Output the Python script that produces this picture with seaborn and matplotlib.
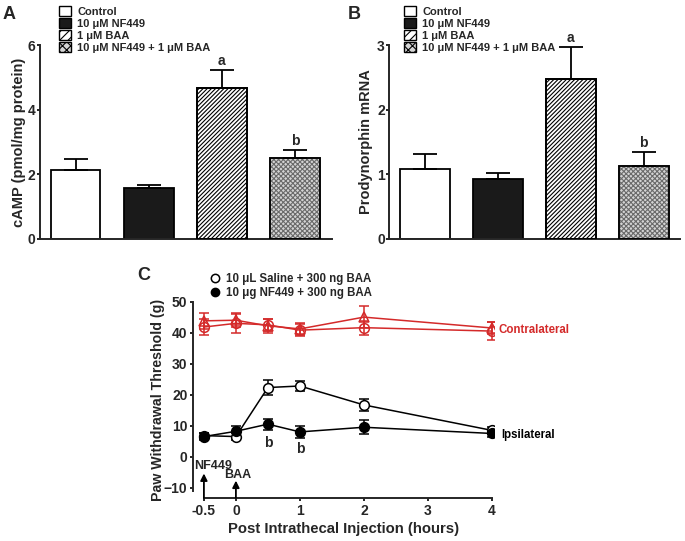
import matplotlib
matplotlib.use("Agg")
import matplotlib.pyplot as plt
import seaborn as sns
import pandas as pd
from matplotlib.patches import Patch
from matplotlib.lines import Line2D

# bar panels
groups = ["Control", "10 μM NF449", "1 μM BAA", "10 μM NF449 + 1 μM BAA"]
camp_mean = [2.13, 1.56, 4.67, 2.51]
camp_err = [0.33, 0.12, 0.57, 0.24]
camp_marks = ["", "", "a", "b"]
dyn_mean = [1.08, 0.92, 2.48, 1.12]
dyn_err = [0.24, 0.10, 0.50, 0.22]
dyn_marks = ["", "", "a", "b"]

# time course panel
hours = [-0.5, 0, 0.5, 1, 2, 4]
ipsi_saline = [6.8, 6.5, 22.3, 22.8, 16.7, 8.5]
ipsi_saline_err = [1.0, 1.2, 2.3, 1.5, 2.0, 1.0]
ipsi_nf449 = [6.5, 8.2, 10.5, 8.0, 9.5, 7.5]
ipsi_nf449_err = [1.2, 1.8, 1.8, 2.0, 2.3, 1.2]
contra_circ = [41.8, 43.0, 42.5, 40.8, 41.6, 40.5]
contra_circ_err = [2.5, 3.0, 2.0, 2.0, 2.3, 2.8]
contra_tri = [43.8, 44.0, 42.2, 41.2, 45.0, 41.5]
contra_tri_err = [2.5, 2.3, 2.3, 2.0, 3.5, 2.0]

sns.set_style("ticks")
plt.rcParams["font.family"] = ["Liberation Sans", "DejaVu Sans"]
plt.rcParams["font.weight"] = "bold"
plt.rcParams["axes.labelweight"] = "bold"
plt.rcParams["axes.linewidth"] = 1.4
plt.rcParams["xtick.major.width"] = 1.4
plt.rcParams["ytick.major.width"] = 1.4
plt.rcParams["hatch.linewidth"] = 0.8

fig = plt.figure(figsize=(6.85, 5.41), dpi=100)

faces = ["white", "#1a1a1a", "white", "#d4d4d4"]
hatches = [None, None, "////////", "xxxxxxx"]
hatch_edges = ["black", "black", "black", "#6a6a6a"]


def bar_panel(rect, means, errs, marks, ymax, yticks, ylabel, label_x, letter, letter_xy, leg_xy):
    ax = fig.add_axes(rect)
    df = pd.DataFrame({"group": groups, "value": means})
    sns.barplot(data=df, x="group", y="value", hue="group", order=groups,
                hue_order=groups, palette=faces, width=0.68, legend=False, ax=ax)
    for p, fc, h, he in zip(ax.patches, faces, hatches, hatch_edges):
        p.set_facecolor(fc)
        p.set_edgecolor(he)
        p.set_linewidth(1.3)
        if h:
            p.set_hatch(h)
            # outline drawn separately so hatch color can differ
            ax.add_patch(plt.Rectangle(p.get_xy(), p.get_width(), p.get_height(),
                                       fill=False, edgecolor="black", lw=1.3, zorder=3))
    ax.errorbar(range(4), means, yerr=[[0] * 4, errs], fmt="none", ecolor="black",
                elinewidth=1.3, capsize=8.5, capthick=1.3, zorder=4)
    for i, (m, e, t) in enumerate(zip(means, errs, marks)):
        if t:
            ax.text(i, m + e + ymax * 0.01, t, ha="center", va="bottom", fontsize=10)
    ax.set_xlim(-0.49, 3.5)
    ax.set_ylim(0, ymax)
    ax.set_yticks(yticks)
    ax.set_xticks([])
    ax.set_xlabel("")
    ax.set_ylabel(ylabel, fontsize=10.5)
    ax.yaxis.set_label_coords(label_x, 0.5)
    ax.tick_params(axis="y", labelsize=10, length=2, pad=1)
    sns.despine(ax=ax)
    fig.text(letter_xy[0], letter_xy[1], letter, fontsize=13, fontweight="bold",
             va="top", ha="left")
    handles = [Patch(facecolor=fc, edgecolor="black", hatch=(h[:4] if h else None), lw=1)
               for fc, h in zip(faces, hatches)]
    ax.legend(handles=handles, labels=groups, loc="upper left", bbox_to_anchor=leg_xy,
              bbox_transform=fig.transFigure, frameon=False, fontsize=8,
              handlelength=1.05, handleheight=1.0, handletextpad=0.6,
              labelspacing=0.1, borderaxespad=0, borderpad=0)
    return ax


bar_panel([0.058, 0.559, 0.426, 0.357], camp_mean, camp_err, camp_marks, 6, [0, 2, 4, 6],
          "cAMP (pmol/mg protein)", -0.048, "A", (0.004, 0.988), (0.086, 0.988))
bar_panel([0.568, 0.559, 0.425, 0.357], dyn_mean, dyn_err, dyn_marks, 3, [0, 1, 2, 3],
          "Prodynorphin mRNA", -0.055, "B", (0.508, 0.988), (0.590, 0.988))

# panel C
axc = fig.add_axes([0.2818, 0.0795, 0.439, 0.363])
red = "#d42a2a"
series = [
    (contra_circ, contra_circ_err, red, "o", "none"),
    (contra_tri, contra_tri_err, red, "^", "none"),
    (ipsi_saline, ipsi_saline_err, "black", "o", "white"),
    (ipsi_nf449, ipsi_nf449_err, "black", "o", "black"),
]
for vals, errs, col, mk, mfc in series:
    df = pd.DataFrame({"h": hours, "v": vals})
    sns.lineplot(data=df, x="h", y="v", color=col, lw=1.1, marker=mk, markersize=7,
                 markerfacecolor=mfc, markeredgecolor=col, markeredgewidth=1.1, ax=axc,
                 zorder=3)
    axc.errorbar(hours, vals, yerr=errs, fmt="none", ecolor=col, elinewidth=1.1,
                 capsize=3.6, capthick=1.1, zorder=2)

axc.set_xlim(-0.67, 4.03)
axc.set_ylim(-13.3, 50)
axc.set_xticks([-0.5, 0, 1, 2, 3, 4])
axc.set_xticklabels(["-0.5", "0", "1", "2", "3", "4"])
axc.set_yticks([-10, 0, 10, 20, 30, 40, 50])
axc.tick_params(labelsize=10, length=2.5, pad=1.5)
axc.set_xlabel("Post Intrathecal Injection (hours)", fontsize=10.7, labelpad=3)
axc.set_ylabel("Paw Withdrawal Threshold (g)", fontsize=10.2)
axc.yaxis.set_label_coords(-0.092, 0.5)
sns.despine(ax=axc)
axc.spines["left"].set_bounds(-11, 50)
axc.spines["bottom"].set_bounds(-0.5, 4)

axc.text(0.5, 4.3, "b", ha="center", va="center", fontsize=10)
axc.text(1, 2.6, "b", ha="center", va="center", fontsize=10)
axc.text(4.11, 40.9, "Contralateral", color=red, ha="left", va="center", fontsize=8.3)
axc.text(4.14, 7.0, "Ipsilateral", color="black", ha="left", va="center", fontsize=8.3)

axc.annotate("", xy=(-0.5, -5.4), xytext=(-0.5, -13.3),
             arrowprops=dict(arrowstyle="-|>", color="black", lw=1.3, mutation_scale=10,
                             shrinkA=0, shrinkB=0))
axc.text(-0.35, -3.0, "NF449", ha="center", va="center", fontsize=9)
axc.annotate("", xy=(0, -7.7), xytext=(0, -13.3),
             arrowprops=dict(arrowstyle="-|>", color="black", lw=1.3, mutation_scale=10,
                             shrinkA=0, shrinkB=0))
axc.text(0.03, -5.9, "BAA", ha="center", va="center", fontsize=9)

leg_handles = [
    Line2D([], [], ls="none", marker="o", markersize=6, markerfacecolor="white",
           markeredgecolor="black", markeredgewidth=1.1),
    Line2D([], [], ls="none", marker="o", markersize=6, markerfacecolor="black",
           markeredgecolor="black"),
]
axc.legend(handles=leg_handles, labels=["10 μL Saline + 300 ng BAA", "10 μg NF449 + 300 ng BAA"],
           loc="upper left", bbox_to_anchor=(0.305, 0.495), bbox_transform=fig.transFigure,
           frameon=False, fontsize=8.3, handlelength=1.0, handletextpad=0.5,
           labelspacing=0.15, borderaxespad=0, borderpad=0)

fig.text(0.2, 0.506, "C", fontsize=13, fontweight="bold", va="top", ha="left")

fig.savefig("out.png", dpi=100)
